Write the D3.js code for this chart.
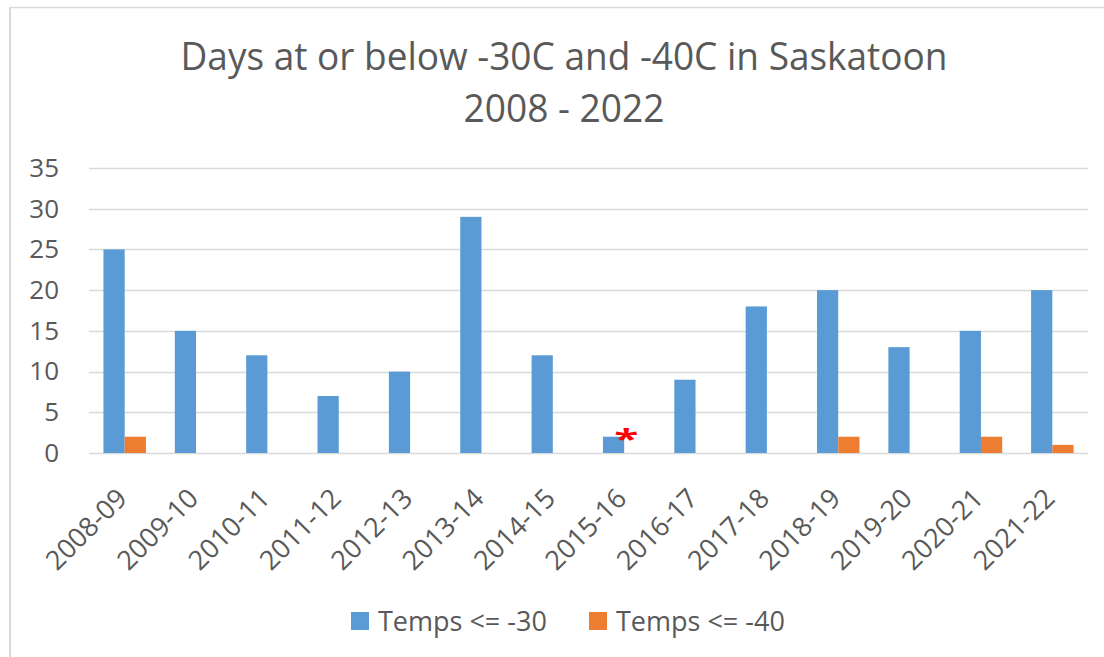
<!DOCTYPE html>
<html>
<head>
<meta charset="utf-8">
<script src="https://cdn.jsdelivr.net/npm/d3@7"></script>
<style>
  body { margin: 0; background: #fff; }
  svg { display: block; }
  text { font-family: "Open Sans", "Noto Sans", sans-serif; fill: #595959; }
</style>
</head>
<body>
<svg id="chart"></svg>
<script>
// data
var seasons = ["2008-09", "2009-10", "2010-11", "2011-12", "2012-13", "2013-14", "2014-15",
               "2015-16", "2016-17", "2017-18", "2018-19", "2019-20", "2020-21", "2021-22"];
var below30 = [25, 15, 12, 7, 10, 29, 12, 2, 9, 18, 20, 13, 15, 20];
var below40 = [2, 0, 0, 0, 0, 0, 0, 0, 0, 0, 2, 0, 2, 1];
var seriesNames = ["Temps <= -30", "Temps <= -40"];
var yTicks = [0, 5, 10, 15, 20, 25, 30, 35];
var titleLines = ["Days at or below -30C and -40C in Saskatoon", "2008 - 2022"];
var note = { season: "2015-16", value: 2, mark: "*" };

var colors = ["#5b9bd5", "#ed7d31"];
var svgWidth = 1104, svgHeight = 657;
var margin = {top: 168, right: 16, bottom: 204, left: 89};
var width = svgWidth - margin.left - margin.right;
var height = svgHeight - margin.top - margin.bottom;

var svg = d3.select("#chart")
    .attr("width", svgWidth)
    .attr("height", svgHeight);

// chart frame (only top and left edges show)
svg.append("line")
    .attr("x1", 10).attr("x2", svgWidth).attr("y1", 7.5).attr("y2", 7.5)
    .attr("stroke", "#d9d9d9").attr("stroke-width", 1.5);
svg.append("line")
    .attr("x1", 10).attr("x2", 10).attr("y1", 7).attr("y2", svgHeight)
    .attr("stroke", "#d9d9d9").attr("stroke-width", 2);

// title
svg.append("text")
    .attr("x", 564).attr("y", 70)
    .attr("text-anchor", "middle")
    .attr("font-size", "38px")
    .attr("textLength", 767)
    .attr("lengthAdjust", "spacingAndGlyphs")
    .text(titleLines[0]);
svg.append("text")
    .attr("x", 564).attr("y", 122)
    .attr("text-anchor", "middle")
    .attr("font-size", "38px")
    .attr("textLength", 201)
    .attr("lengthAdjust", "spacingAndGlyphs")
    .text(titleLines[1]);

var g = svg.append("g")
    .attr("transform", "translate(" + margin.left + "," + margin.top + ")");

var x = d3.scaleBand()
    .domain(seasons)
    .range([0, width])
    .paddingInner(0.405)
    .paddingOuter(0.2025);

var x1 = d3.scaleBand()
    .domain([0, 1])
    .range([0, x.bandwidth()]);

var y = d3.scaleLinear()
    .domain([0, 35])
    .range([height, 0]);

// gridlines
g.append("g")
    .selectAll("line")
    .data(yTicks)
    .enter()
    .append("line")
    .attr("x1", 0).attr("x2", width)
    .attr("y1", function(d) { return Math.round(y(d)) + 0.5; })
    .attr("y2", function(d) { return Math.round(y(d)) + 0.5; })
    .attr("stroke", "#d9d9d9")
    .attr("stroke-width", 1.5);

// y axis labels
var yAxis = g.append("g")
    .attr("class", "axis axis-y")
    .call(d3.axisLeft(y).tickValues(yTicks).tickSize(0).tickPadding(30));
yAxis.select(".domain").remove();
yAxis.selectAll("text")
    .attr("font-size", "26px")
    .style("font-family", "'Open Sans', sans-serif")
    .attr("fill", "#595959");

// x axis labels
var xAxis = g.append("g")
    .attr("class", "axis axis-x")
    .attr("transform", "translate(0," + height + ")")
    .call(d3.axisBottom(x).tickSize(0));
xAxis.select(".domain").remove();
xAxis.selectAll("text")
    .attr("font-size", "27px")
    .style("font-family", "'Open Sans', sans-serif")
    .attr("fill", "#595959")
    .attr("text-anchor", "end")
    .attr("y", 0).attr("dy", 0)
    .attr("transform", "translate(4,47) rotate(-45)");

// bars
var series = [below30, below40];
series.forEach(function(vals, s) {
    g.append("g")
        .selectAll("rect")
        .data(seasons)
        .enter()
        .append("rect")
        .attr("x", function(d) { return x(d) + x1(s); })
        .attr("y", function(d, i) { return y(vals[i]); })
        .attr("width", x1.bandwidth())
        .attr("height", function(d, i) { return y(0) - y(vals[i]); })
        .attr("fill", colors[s]);
});

// red asterisk note, a bit squashed like the original
g.append("text")
    .attr("transform", "translate(" + (x(note.season) + x1(1) + 2) + "," + (y(note.value) + 11) + ") scale(1.3,0.8)")
    .attr("text-anchor", "middle")
    .attr("font-size", "34px")
    .attr("font-weight", "bold")
    .style("fill", "#ff0000")
    .text(note.mark);

// legend
var legendX = [351, 589];
var legend = svg.append("g");
seriesNames.forEach(function(name, i) {
    legend.append("rect")
        .attr("x", legendX[i]).attr("y", 612)
        .attr("width", 18).attr("height", 18)
        .attr("fill", colors[i]);
    legend.append("text")
        .attr("x", legendX[i] + 27).attr("y", 631)
        .attr("font-size", "27px")
        .text(name);
});
</script>
</body>
</html>
